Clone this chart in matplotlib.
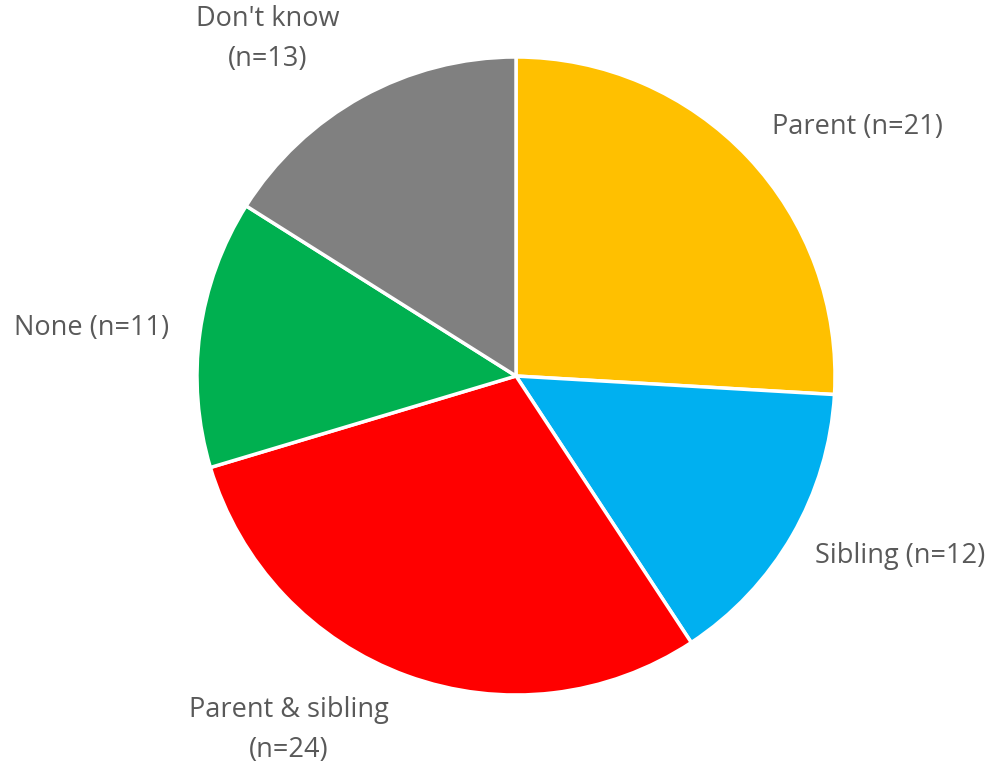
import matplotlib
matplotlib.use("Agg")
import matplotlib.pyplot as plt

# slice data, clockwise from 12 o'clock
categories = ["Parent", "Sibling", "Parent & sibling", "None", "Don't know"]
counts = [21, 12, 24, 11, 13]
label_texts = ["Parent (n=21)", "Sibling (n=12)", "Parent & sibling\n(n=24)",
               "None (n=11)", "Don't know\n(n=13)"]
colors = ["#FFC000", "#00B0F0", "#FF0000", "#00B050", "#808080"]

# label anchor positions in pixel space (x, y from top)
label_pos = [(857, 127), (900, 556), (289, 730), (92, 328), (268, 39)]

W, H = 997, 770
fig = plt.figure(figsize=(W / 100, H / 100), dpi=100)
ax = fig.add_axes([0, 0, 1, 1])

ax.pie(counts, colors=colors, startangle=90, counterclock=False,
       center=(516, H - 376), radius=319, frame=True,
       wedgeprops=dict(edgecolor="white", linewidth=2.5))
ax.set_xlim(0, W)
ax.set_ylim(0, H)
ax.set_aspect("equal")
ax.axis("off")

for txt, (x, y) in zip(label_texts, label_pos):
    ax.text(x, H - y, txt, ha="center", va="center", fontsize=19.5,
            color="#595959", family="Open Sans", linespacing=1.55)

fig.savefig("out.png", dpi=100)
